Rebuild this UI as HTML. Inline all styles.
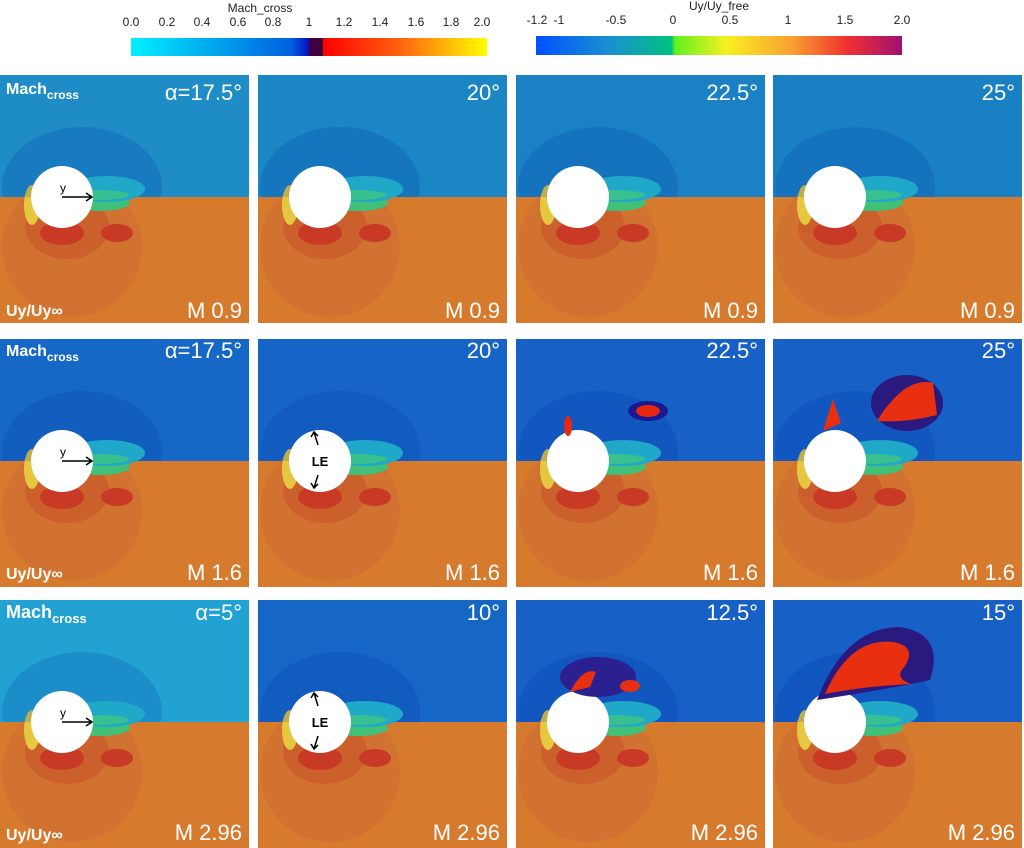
<!DOCTYPE html>
<html><head><meta charset="utf-8"><style>
body{margin:0;background:#fff}
svg{display:block;font-family:"Liberation Sans",sans-serif}
.a{fill:#fff;font-size:22px}
.b{fill:#fff;font-size:16px;font-weight:bold}
.t{fill:#222;font-size:12px}
</style></head><body>
<svg width="1024" height="848" viewBox="0 0 1024 848">
<defs>
<linearGradient id="cb1" x1="0" x2="1">
<stop offset="0" stop-color="#00f0ff"/><stop offset="0.2" stop-color="#00b0f0"/><stop offset="0.45" stop-color="#0060e0"/><stop offset="0.5" stop-color="#0010c0"/><stop offset="0.5" stop-color="#400040"/><stop offset="0.54" stop-color="#400040"/><stop offset="0.54" stop-color="#ff0000"/><stop offset="0.75" stop-color="#ff6010"/><stop offset="1" stop-color="#ffff00"/></linearGradient>
<linearGradient id="cb2" x1="0" x2="1">
<stop offset="0" stop-color="#0050ff"/><stop offset="0.2" stop-color="#1a90d0"/><stop offset="0.37" stop-color="#00c080"/><stop offset="0.38" stop-color="#60f020"/><stop offset="0.52" stop-color="#f8f020"/><stop offset="0.7" stop-color="#f8a030"/><stop offset="0.85" stop-color="#f03030"/><stop offset="1" stop-color="#a01070"/></linearGradient>
<clipPath id="cp"><rect x="-62" y="-122" width="249" height="248"/></clipPath>
<clipPath id="ct"><rect x="-62" y="-130" width="249" height="130"/></clipPath>
<g id="bot">
<rect x="-62" y="0" width="249" height="130" fill="#d67a2e"/>
<ellipse cx="10" cy="50" rx="70" ry="70" fill="#d27230"/>
<ellipse cx="5" cy="30" rx="42" ry="32" fill="#cc602c"/>
<ellipse cx="0" cy="36" rx="22" ry="12" fill="#c83a26"/>
<ellipse cx="55" cy="36" rx="16" ry="9" fill="#c83a26"/>
<ellipse cx="-30" cy="8" rx="8" ry="20" fill="#e6c840"/>
<ellipse cx="38" cy="6" rx="30" ry="8" fill="#40c078"/>
</g>
<g id="wake">
<g clip-path="url(#ct)"><ellipse cx="20" cy="-10" rx="80" ry="60" fill-opacity="0.18" fill="#0030a0"/></g>
<ellipse cx="45" cy="-8" rx="38" ry="13" fill="#20a8c8"/>
<ellipse cx="35" cy="-2" rx="32" ry="5" fill="#38c090"/>
<circle cx="0" cy="0" r="31" fill="#fff"/>
</g>
</defs>

<text x="260" y="12" class="t" text-anchor="middle">Mach_cross</text>
<rect x="131" y="38" width="356" height="18" fill="url(#cb1)"/>
<g class="t" text-anchor="middle">
<text x="131" y="26">0.0</text><text x="167" y="26">0.2</text><text x="202" y="26">0.4</text><text x="238" y="26">0.6</text><text x="273" y="26">0.8</text><text x="309" y="26">1</text><text x="344" y="26">1.2</text><text x="380" y="26">1.4</text><text x="416" y="26">1.6</text><text x="451" y="26">1.8</text><text x="482" y="26">2.0</text>
<text x="719" y="10">Uy/Uy_free</text>
<text x="537" y="24">-1.2</text><text x="559" y="24">-1</text><text x="616" y="24">-0.5</text><text x="673" y="24">0</text><text x="730" y="24">0.5</text><text x="788" y="24">1</text><text x="845" y="24">1.5</text><text x="902" y="24">2.0</text>
</g>
<rect x="536" y="36" width="366" height="19" fill="url(#cb2)"/>

<g transform="translate(62,197)" clip-path="url(#cp)"><rect x="-62" y="-122" width="249" height="122" fill="#1e8cc6"/><use href="#bot"/><use href="#wake"/></g>
<g transform="translate(320,197)" clip-path="url(#cp)"><rect x="-62" y="-122" width="249" height="122" fill="#1a86c4"/><use href="#bot"/><use href="#wake"/></g>
<g transform="translate(578,197)" clip-path="url(#cp)"><rect x="-62" y="-122" width="249" height="122" fill="#1a82c4"/><use href="#bot"/><use href="#wake"/></g>
<g transform="translate(835,197)" clip-path="url(#cp)"><rect x="-62" y="-122" width="249" height="122" fill="#1a80c4"/><use href="#bot"/><use href="#wake"/></g>

<g transform="translate(62,461)" clip-path="url(#cp)"><rect x="-62" y="-128" width="249" height="128" fill="#1668c6"/><use href="#bot"/><use href="#wake"/></g>
<g transform="translate(320,461)" clip-path="url(#cp)"><rect x="-62" y="-128" width="249" height="128" fill="#1664c6"/><use href="#bot"/><use href="#wake"/></g>
<g transform="translate(578,461)" clip-path="url(#cp)"><rect x="-62" y="-128" width="249" height="128" fill="#1660c6"/><use href="#bot"/><use href="#wake"/>
<ellipse cx="70" cy="-50" rx="20" ry="10" fill="#1a1a90"/><ellipse cx="70" cy="-50" rx="12" ry="6" fill="#e82810"/><ellipse cx="-10" cy="-35" rx="4" ry="10" fill="#e82810"/></g>
<g transform="translate(835,461)" clip-path="url(#cp)"><rect x="-62" y="-128" width="249" height="128" fill="#1660c6"/><use href="#bot"/><use href="#wake"/>
<ellipse cx="72" cy="-58" rx="36" ry="28" fill="#2a1a80"/><path d="M42,-40 Q70,-85 98,-78 L102,-46 Q70,-38 42,-40Z" fill="#e83010"/><path d="M-12,-30 L-2,-62 L6,-38Z" fill="#e83010"/></g>

<g transform="translate(62,722)" clip-path="url(#cp)"><rect x="-62" y="-126" width="249" height="126" fill="#22a2d2"/><use href="#bot"/><use href="#wake"/></g>
<g transform="translate(320,722)" clip-path="url(#cp)"><rect x="-62" y="-126" width="249" height="126" fill="#1666c6"/><use href="#bot"/><use href="#wake"/></g>
<g transform="translate(578,722)" clip-path="url(#cp)"><rect x="-62" y="-126" width="249" height="126" fill="#1660c6"/><use href="#bot"/><use href="#wake"/>
<ellipse cx="20" cy="-45" rx="38" ry="20" fill="#2a2090"/><path d="M-8,-30 Q5,-55 18,-50 L12,-35Z" fill="#e83010"/><ellipse cx="52" cy="-36" rx="10" ry="6" fill="#e83010"/></g>
<g transform="translate(835,722)" clip-path="url(#cp)"><rect x="-62" y="-126" width="249" height="126" fill="#1660c6"/><use href="#bot"/><use href="#wake"/>
<path d="M-18,-22 Q10,-95 65,-95 Q110,-88 95,-42 Q60,-34 -18,-22Z" fill="#2a1a80"/><path d="M-10,-28 Q15,-85 58,-80 Q82,-76 70,-56 Q58,-44 76,-38 Q30,-36 -10,-28Z" fill="#e83010"/></g>

<g class="b">
<text x="6" y="94">Mach<tspan font-size="12" dy="5">cross</tspan></text>
<text x="6" y="316">Uy/Uy∞</text>
<text x="6" y="356">Mach<tspan font-size="12" dy="5">cross</tspan></text>
<text x="6" y="579">Uy/Uy∞</text>
<text x="6" y="618" font-size="18">Mach<tspan font-size="13" dy="5">cross</tspan></text>
<text x="6" y="840">Uy/Uy∞</text>
</g>
<g class="a" text-anchor="end">
<text x="242" y="100">α=17.5°</text><text x="500" y="100">20°</text><text x="758" y="100">22.5°</text><text x="1015" y="100">25°</text>
<text x="242" y="318">M 0.9</text><text x="500" y="318">M 0.9</text><text x="758" y="318">M 0.9</text><text x="1015" y="318">M 0.9</text>
<text x="242" y="358">α=17.5°</text><text x="500" y="358">20°</text><text x="758" y="358">22.5°</text><text x="1015" y="358">25°</text>
<text x="242" y="580">M 1.6</text><text x="500" y="580">M 1.6</text><text x="758" y="580">M 1.6</text><text x="1015" y="580">M 1.6</text>
<text x="242" y="620">α=5°</text><text x="500" y="620">10°</text><text x="758" y="620">12.5°</text><text x="1015" y="620">15°</text>
<text x="242" y="840">M 2.96</text><text x="500" y="840">M 2.96</text><text x="758" y="840">M 2.96</text><text x="1015" y="840">M 2.96</text>
</g>
<g stroke="#000" stroke-width="1.5" fill="none">
<path d="M62,197 H92 M86,193 L92,197 L86,201"/>
<path d="M62,461 H92 M86,457 L92,461 L86,465"/>
<path d="M62,722 H92 M86,718 L92,722 L86,726"/>
<path d="M318,445 L314,432 M311,437 L314,432 L318,436"/>
<path d="M318,475 L314,488 M311,483 L314,488 L318,484"/>
<path d="M318,706 L314,693 M311,698 L314,693 L318,697"/>
<path d="M318,736 L314,749 M311,744 L314,749 L318,745"/>
</g>
<g font-size="12" fill="#000"><text x="60" y="192">y</text><text x="60" y="456">y</text><text x="60" y="717">y</text></g>
<g font-size="13" font-weight="bold" fill="#000" text-anchor="middle"><text x="320" y="466">LE</text><text x="320" y="727">LE</text></g>
</svg>
</body></html>
